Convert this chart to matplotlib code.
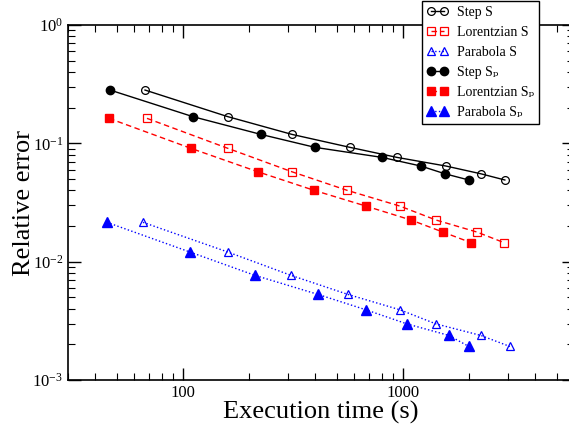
import matplotlib
matplotlib.use('Agg')
import matplotlib.pyplot as plt
from matplotlib.ticker import LogLocator, FixedLocator, FixedFormatter, NullFormatter


# Execution times (s) for the serial (S) and parallel (S_p) runs
step_s_time = [67.2, 160, 313, 574, 939, 1569, 2262, 2908]
step_sp_time = [46.6, 111, 226, 398, 803, 1207, 1553, 1995]
lor_s_time = [68.6, 160, 313, 557, 969, 1413, 2170, 2878]
lor_sp_time = [46.1, 108.7, 219, 394, 679, 1088, 1520, 2037]
par_s_time = [65.8, 160, 310, 562, 969, 1413, 2262, 3065]
par_sp_time = [45.1, 107.6, 212.5, 411, 679, 1043, 1619, 1995]

# Relative error, shared by the S and S_p runs of each profile
step_err = [0.282, 0.168, 0.119, 0.0925, 0.0761, 0.0643, 0.0553, 0.049]
lor_err = [0.1626, 0.0907, 0.0575, 0.0401, 0.0295, 0.0225, 0.0178, 0.0145]
par_err = [0.0215, 0.01206, 0.00766, 0.00529, 0.00392, 0.00298, 0.00238, 0.00192]

labels = ['Step S', 'Lorentzian S', 'Parabola S',
          'Step S\u209a', 'Lorentzian S\u209a', 'Parabola S\u209a']

plt.rcParams['font.family'] = ['Liberation Serif', 'DejaVu Serif']
plt.rcParams['mathtext.fontset'] = 'custom'
plt.rcParams['mathtext.rm'] = 'Liberation Serif'
plt.rcParams['mathtext.it'] = 'Liberation Serif:italic'

fig = plt.figure(figsize=(5.69, 4.32), dpi=100)
ax = fig.add_axes([68 / 569, 52 / 432, 506 / 569, 355 / 432])

ax.plot(step_s_time, step_err, '-', color='black', lw=1.0, marker='o',
        ms=5.6, mfc='none', mec='black', mew=0.9, label=labels[0])
ax.plot(lor_s_time, lor_err, '--', color='red', lw=1.0, marker='s',
        ms=5.2, mfc='none', mec='red', mew=0.9, dashes=(4, 2.5), label=labels[1])
ax.plot(par_s_time, par_err, ':', color='blue', lw=1.0, marker='^',
        ms=6.2, mfc='none', mec='blue', mew=0.9, label=labels[2])
ax.plot(step_sp_time, step_err, '-', color='black', lw=1.0, marker='o',
        ms=6.0, mfc='black', mec='black', label=labels[3])
ax.plot(lor_sp_time, lor_err, '--', color='red', lw=1.0, marker='s',
        ms=5.6, mfc='red', mec='red', dashes=(4, 2.5), label=labels[4])
ax.plot(par_sp_time, par_err, ':', color='blue', lw=1.0, marker='^',
        ms=6.5, mfc='blue', mec='blue', label=labels[5])

ax.set_xscale('log')
ax.set_yscale('log')
ax.set_xlim(30, 6000)
ax.set_ylim(1e-3, 1)

# x axis: plain labels on decades, unlabeled minor ticks
ax.xaxis.set_major_locator(FixedLocator([100, 1000]))
ax.xaxis.set_major_formatter(FixedFormatter(['100', '1000']))
ax.xaxis.set_minor_locator(LogLocator(base=10, subs=range(2, 10)))
ax.xaxis.set_minor_formatter(NullFormatter())
ax.yaxis.set_minor_locator(LogLocator(base=10, subs=range(2, 10)))
ax.yaxis.set_minor_formatter(NullFormatter())

ax.tick_params(which='both', direction='in', top=True, right=True, labelsize=12)
ax.tick_params(which='major', length=9, width=1.0)
ax.tick_params(which='minor', length=5, width=0.8)
for sp in ax.spines.values():
    sp.set_linewidth(1.2)

ax.set_xlabel('Execution time (s)', fontsize=19, labelpad=0)
ax.set_ylabel('Relative error', fontsize=19, labelpad=-2)

leg = fig.legend(loc='upper left', bbox_to_anchor=(422 / 569, 0.997),
                 fontsize=10, numpoints=2, handlelength=1.5, handletextpad=0.7,
                 labelspacing=0.5, borderpad=0.35, borderaxespad=0,
                 fancybox=False, framealpha=1, edgecolor='black')
leg.get_frame().set_linewidth(1.0)

fig.savefig('out.png', dpi=100)
